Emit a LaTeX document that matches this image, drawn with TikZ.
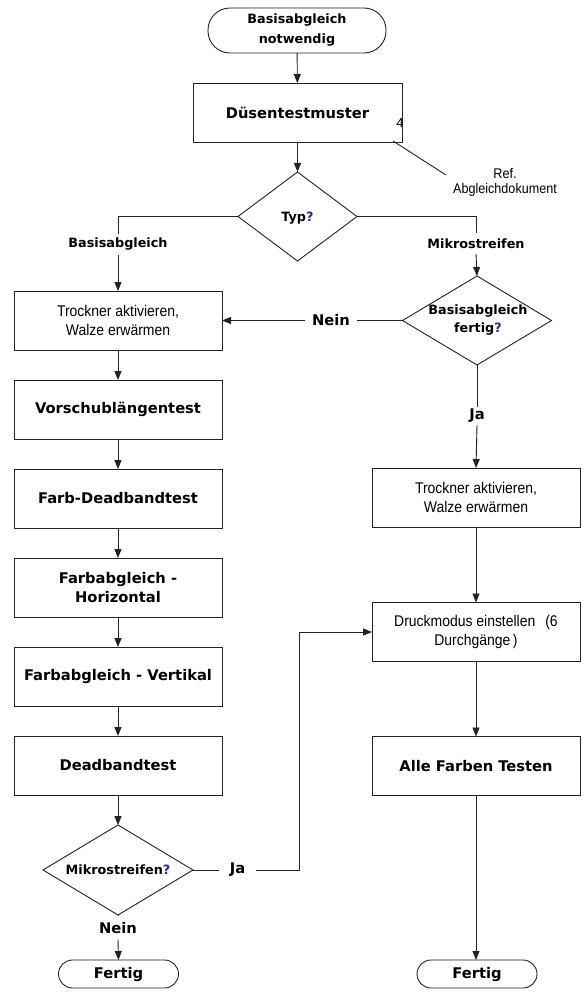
\documentclass[tikz,border=0pt]{standalone}
\usepackage{fontspec}
\setmainfont{Liberation Sans}
\newfontfamily\dv{DejaVu Sans}
\newfontfamily\narrowf[FakeStretch=0.9]{Liberation Sans}
\usetikzlibrary{shapes.geometric,arrows.meta}
\definecolor{qblue}{RGB}{40,40,140}
\definecolor{lncol}{RGB}{35,35,35}
\newcommand{\qm}{{\color{qblue}?}}
\begin{document}
\begin{tikzpicture}[x=1pt,y=-1pt,
  every node/.style={inner sep=0pt, outer sep=0pt},
  proc/.style={draw=lncol, line width=0.9pt, minimum width=208pt, minimum height=59pt, align=center},
  term/.style={draw=lncol, line width=0.9pt, align=center},
  dec/.style={draw=lncol, line width=0.9pt, diamond},
  bl/.style={font=\dv\bfseries\fontsize{14.7}{19}\selectfont},
  sl/.style={font=\dv\bfseries\fontsize{12.8}{19}\selectfont},
  rl/.style={font=\narrowf\fontsize{15.5}{19.5}\selectfont},
  arr/.style={draw=lncol, line width=0.9pt, -{Triangle[length=9pt,width=7pt]}},
  cn/.style={draw=lncol, line width=0.9pt},
]
\fill[white] (0,0) rectangle (587,998);
\useasboundingbox (0,0) rectangle (587,998);

% start and first box
\node[term, minimum width=178pt, minimum height=45pt, rounded corners=22pt, font=\dv\bfseries\fontsize{12.8}{20}\selectfont] (start) at (297,30.5) {Basisabgleich\\notwendig};
\node[proc, bl, minimum width=209pt] (duesen) at (297.5,112.5) {Düsentestmuster};
\node[font=\fontsize{13}{15}\selectfont] (four) at (400,123) {4};
\coordinate (refA) at (393,141);
\coordinate (refB) at (446,175);
\node[font=\narrowf\fontsize{14}{15}\selectfont, align=center] (reftxt) at (505,182.5) {Ref.\\Abgleichdokument};

% Typ diamond
\node[dec, minimum width=119pt, minimum height=89pt] (typ) at (297.5,216.5) {};
\node[sl] (typt) at (297.5,218) {Typ\qm};

\node[sl, inner ysep=4.3pt] (lblB) at (118,244.5) {Basisabgleich};
\node[sl, inner ysep=5.5pt] (lblM) at (476,243.5) {Mikrostreifen};

% left column
\node[proc, rl] (trockL) at (118,320.5) {Trockner aktivieren,\\Walze erwärmen};
\node[proc, bl] (vor) at (118,409.5) {Vorschublängentest};
\node[proc, bl] (fdb) at (118,498.5) {Farb-Deadbandtest};
\node[proc, bl] (fh) at (118,587.5) {Farbabgleich -\\Horizontal};
\node[proc, bl] (fv) at (118,676.5) {Farbabgleich - Vertikal};
\node[proc, bl] (db) at (118,765.5) {Deadbandtest};
\node[dec, minimum width=150pt, minimum height=90pt] (mk) at (118,870) {};
\node[sl] (mkt) at (118,870) {Mikrostreifen\qm};
\node[bl, inner ysep=6pt] (neinB) at (118,928) {Nein};
\node[term, bl, minimum width=120pt, minimum height=28pt, rounded corners=14pt] (finL) at (118.5,974) {Fertig};
\node[bl, inner xsep=11pt, inner ysep=2pt] (jaL) at (237.5,870) {Ja};
\coordinate (jturn) at (299,870);

% right column
\node[dec, minimum width=149pt, minimum height=89pt] (bf) at (477,320.5) {};
\node[align=center, font=\dv\bfseries\fontsize{12.8}{18}\selectfont] (bft) at (478,320) {Basisabgleich\\fertig\qm};
\node[bl, inner xsep=7pt, inner ysep=2pt] (neinR) at (331,320.5) {Nein};
\node[bl, inner ysep=2pt] (jaR) at (477,416) {Ja};
\node[proc, rl] (trockR) at (476,497.5) {Trockner aktivieren,\\Walze erwärmen};
\node[proc, rl] (druck) at (476,632) {Druckmodus einstellen\hspace{10pt}(6\\Durchgänge\,)};
\node[proc, bl] (alle) at (476,766) {Alle Farben Testen};
\node[term, bl, minimum width=120pt, minimum height=28pt, rounded corners=14pt] (finR) at (477,974) {Fertig};

% connectors
\draw[arr] (start) -- (duesen);
\draw[arr] (duesen) -- (typ);
\draw[cn] (refA) -- (refB);
\draw[cn] (typ.west) -| (lblB.north);
\draw[arr] (lblB.south) -- (trockL.north);
\draw[cn] (typ.east) -| (lblM.north);
\draw[arr] (lblM.south) -- (bf.north);
\draw[cn] (bf.west) -- (neinR.east);
\draw[arr] (neinR.west) -- (trockL.east);
\draw[cn] (bf.south) -- (jaR.north);
\draw[arr] (jaR.south) -- (trockR.north);
\draw[arr] (trockR) -- (druck);
\draw[arr] (druck) -- (alle);
\draw[arr] (alle.south) -- (alle.south |- finR.north);

\draw[arr] (trockL) -- (vor);
\draw[arr] (vor) -- (fdb);
\draw[arr] (fdb) -- (fh);
\draw[arr] (fh) -- (fv);
\draw[arr] (fv) -- (db);
\draw[arr] (db.south) -- (mk.north);
\draw[cn] (mk.south) -- (neinB.north);
\draw[arr] (neinB.south) -- (finL.north);
\draw[cn] (mk.east) -- (jaL.west);
\draw[arr] (jaL.east) -- (jturn) |- (druck.west);
\end{tikzpicture}
\end{document}
